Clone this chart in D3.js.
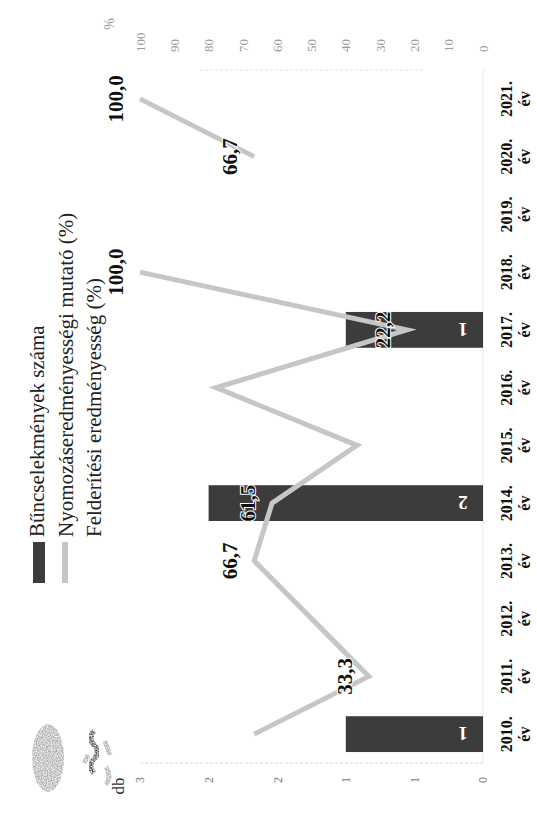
<!DOCTYPE html>
<html>
<head>
<meta charset="utf-8">
<script src="https://cdn.jsdelivr.net/npm/d3@7/dist/d3.min.js"></script>
<style>
  html, body { margin: 0; padding: 0; background: #fff; }
  svg { display: block; }
  text { font-family: "Liberation Serif", "Times New Roman", serif; }
</style>
</head>
<body>
<svg id="chart" width="537" height="813"></svg>
<script>
// Years on the category axis
const years = ["2010.", "2011.", "2012.", "2013.", "2014.", "2015.", "2016.", "2017.", "2018.", "2019.", "2020.", "2021."];
// Bűncselekmények száma (db)
const crimes = [1, 0, 0, 0, 2, 0, 0, 1, 0, 0, 0, 0];
// Nyomozáseredményességi mutató (%)
const nyomozas = [66.7, 33.3, 50.0, 66.7, 61.5, 36.7, 77.8, 22.2, 100.0, null, 66.7, 100.0];
// Felderítési eredményesség (%) – shown as value labels
const felderites = [null, 33.3, null, 66.7, 61.5, null, null, 22.2, 100.0, null, 66.7, 100.0];
// Axis ticks
const countTicks = [0, 0.5, 1, 1.5, 2, 2.5];
const pctTicks = [0, 10, 20, 30, 40, 50, 60, 70, 80, 90, 100];
const legendLabels = ["Bűncselekmények száma", "Nyomozáseredményességi mutató (%)", "Felderítési eredményesség (%)"];

const svg = d3.select("#chart");

// grainy texture used for the stamp-like marks in the corner
const defs = svg.append("defs");
const f = defs.append("filter").attr("id", "grain").attr("x", "-10%").attr("y", "-10%")
  .attr("width", "120%").attr("height", "120%");
f.append("feTurbulence").attr("type", "fractalNoise").attr("baseFrequency", 0.8)
  .attr("numOctaves", 1).attr("seed", 3).attr("result", "n");
f.append("feColorMatrix").attr("in", "n").attr("type", "matrix")
  .attr("values", "0 0 0 0 0  0 0 0 0 0  0 0 0 0 0  0 0 0 -1.8 1.4").attr("result", "mask");
f.append("feComposite").attr("in", "SourceGraphic").attr("in2", "mask").attr("operator", "in");

// the chart is laid out landscape and shown turned a quarter turn
const g = svg.append("g").attr("transform", "translate(0,813) rotate(-90)");

const plot = { left: 50, right: 743, top: 140, bottom: 483 };

const x = d3.scaleBand().domain(years)
  .range([plot.left, plot.right]).paddingInner(0.38).paddingOuter(0.19);
const yCount = d3.scaleLinear().domain([0, 2.5]).range([plot.bottom, plot.top]);
const yPct = d3.scaleLinear().domain([0, 100]).range([plot.bottom, plot.top]);

// faint frame lines
g.append("line").attr("x1", plot.left).attr("x2", plot.left)
  .attr("y1", plot.top).attr("y2", plot.bottom)
  .attr("stroke", "#d8d8d8").attr("stroke-width", 1).attr("stroke-dasharray", "3,2");
g.append("line").attr("x1", plot.right).attr("x2", plot.right)
  .attr("y1", plot.top + 60).attr("y2", plot.bottom - 60)
  .attr("stroke", "#e2e2e2").attr("stroke-width", 1).attr("stroke-dasharray", "3,2");
g.append("line").attr("x1", plot.left).attr("x2", plot.right)
  .attr("y1", plot.bottom).attr("y2", plot.bottom)
  .attr("stroke", "#e6e6e6").attr("stroke-width", 1);

// stamp-like marks beside the "db" caption
g.append("ellipse").attr("cx", 55).attr("cy", 48).attr("rx", 34).attr("ry", 16)
  .attr("fill", "#9c9c9c").attr("filter", "url(#grain)");
g.append("path").attr("d", "M40,94 q7,-7 14,0 t14,0 t14,0")
  .attr("fill", "none").attr("stroke", "#2e2e2e").attr("stroke-width", 5)
  .attr("filter", "url(#grain)");
g.append("path").attr("d", "M28,106 q9,6 18,0 M58,110 l14,-5 M50,84 l8,4")
  .attr("fill", "none").attr("stroke", "#9a9a9a").attr("stroke-width", 5)
  .attr("filter", "url(#grain)");

// left axis (db)
const axL = g.append("g").attr("transform", `translate(38,0)`)
  .call(d3.axisLeft(yCount).tickValues(countTicks).tickFormat(d3.format(".0f")).tickSize(0).tickPadding(2));
axL.select(".domain").remove();
axL.selectAll("text").attr("font-size", 12).attr("fill", "#777")
  .style("font-family", "Liberation Serif");
g.append("text").attr("x", 27).attr("y", 124).attr("text-anchor", "middle")
  .attr("font-size", 17).attr("fill", "#333").text("db");

// right axis (%)
const axR = g.append("g").attr("transform", `translate(761,0)`)
  .call(d3.axisRight(yPct).tickValues(pctTicks).tickSize(0).tickPadding(0));
axR.select(".domain").remove();
axR.selectAll("text").attr("font-size", 13).attr("fill", "#9a9a9a")
  .style("font-family", "Liberation Serif");
g.append("text").attr("x", 789).attr("y", 114).attr("text-anchor", "middle")
  .attr("font-size", 14).attr("fill", "#999").text("%");

// bars
const barData = crimes.map((v, i) => ({ year: years[i], v })).filter(d => d.v > 0);
const bars = g.append("g");
bars.selectAll("rect").data(barData)
  .join("rect")
  .attr("x", d => x(d.year)).attr("width", x.bandwidth())
  .attr("y", d => yCount(d.v)).attr("height", d => yCount(0) - yCount(d.v))
  .attr("fill", "#3c3c3c");

// line
const lineGen = d3.line()
  .defined(d => d.v != null)
  .x(d => x(d.year) + x.bandwidth() / 2)
  .y(d => yPct(d.v));
const lineData = nyomozas.map((v, i) => ({ year: years[i], v }));
g.append("path").datum(lineData).attr("d", lineGen)
  .attr("fill", "none").attr("stroke", "#c6c6c6").attr("stroke-width", 5)
  .attr("stroke-linejoin", "miter");

// bar value labels (turned)
bars.selectAll("text").data(barData)
  .join("text")
  .attr("transform", d => `translate(${x(d.year) + x.bandwidth() / 2},${yCount(0) - 20}) rotate(-90)`)
  .attr("text-anchor", "middle").attr("dy", "0.35em")
  .attr("font-size", 19).attr("font-weight", "bold").attr("fill", "#fff")
  .text(d => d3.format("d")(d.v));

// percentage labels
const fmtPct = v => d3.format(".1f")(v).replace(".", ",");
g.append("g").selectAll("text")
  .data(felderites.map((v, i) => ({ year: years[i], v })).filter(d => d.v != null))
  .join("text")
  .attr("x", d => x(d.year) + x.bandwidth() / 2)
  .attr("y", d => yPct(d.v) - 17)
  .attr("text-anchor", "middle")
  .attr("font-size", 21).attr("font-weight", "bold").attr("fill", "#111")
  .attr("stroke", "#fff").attr("stroke-width", 2).attr("paint-order", "stroke")
  .text(d => fmtPct(d.v));

// category axis
const axB = g.append("g").attr("transform", `translate(0,${plot.bottom})`)
  .call(d3.axisBottom(x).tickSize(0));
axB.select(".domain").remove();
axB.selectAll("text").each(function (d) {
  const t = d3.select(this).text(null)
    .attr("font-size", 16).attr("font-weight", "bold").attr("fill", "#111")
    .style("font-family", "Liberation Serif").attr("y", 0).attr("dy", null);
  t.append("tspan").attr("x", 0).attr("y", 29).text(d);
  t.append("tspan").attr("x", 0).attr("y", 47).text("év");
});

// legend
const lg = g.append("g");
lg.append("rect").attr("x", 230).attr("y", 33).attr("width", 41).attr("height", 12).attr("fill", "#3c3c3c");
lg.append("line").attr("x1", 230).attr("x2", 271).attr("y1", 65).attr("y2", 65)
  .attr("stroke", "#c6c6c6").attr("stroke-width", 6);
legendLabels.forEach((t, i) => {
  lg.append("text").attr("x", 276).attr("y", 44 + i * 28.5)
    .attr("font-size", 21).attr("fill", "#222").text(t);
});
</script>
</body>
</html>
